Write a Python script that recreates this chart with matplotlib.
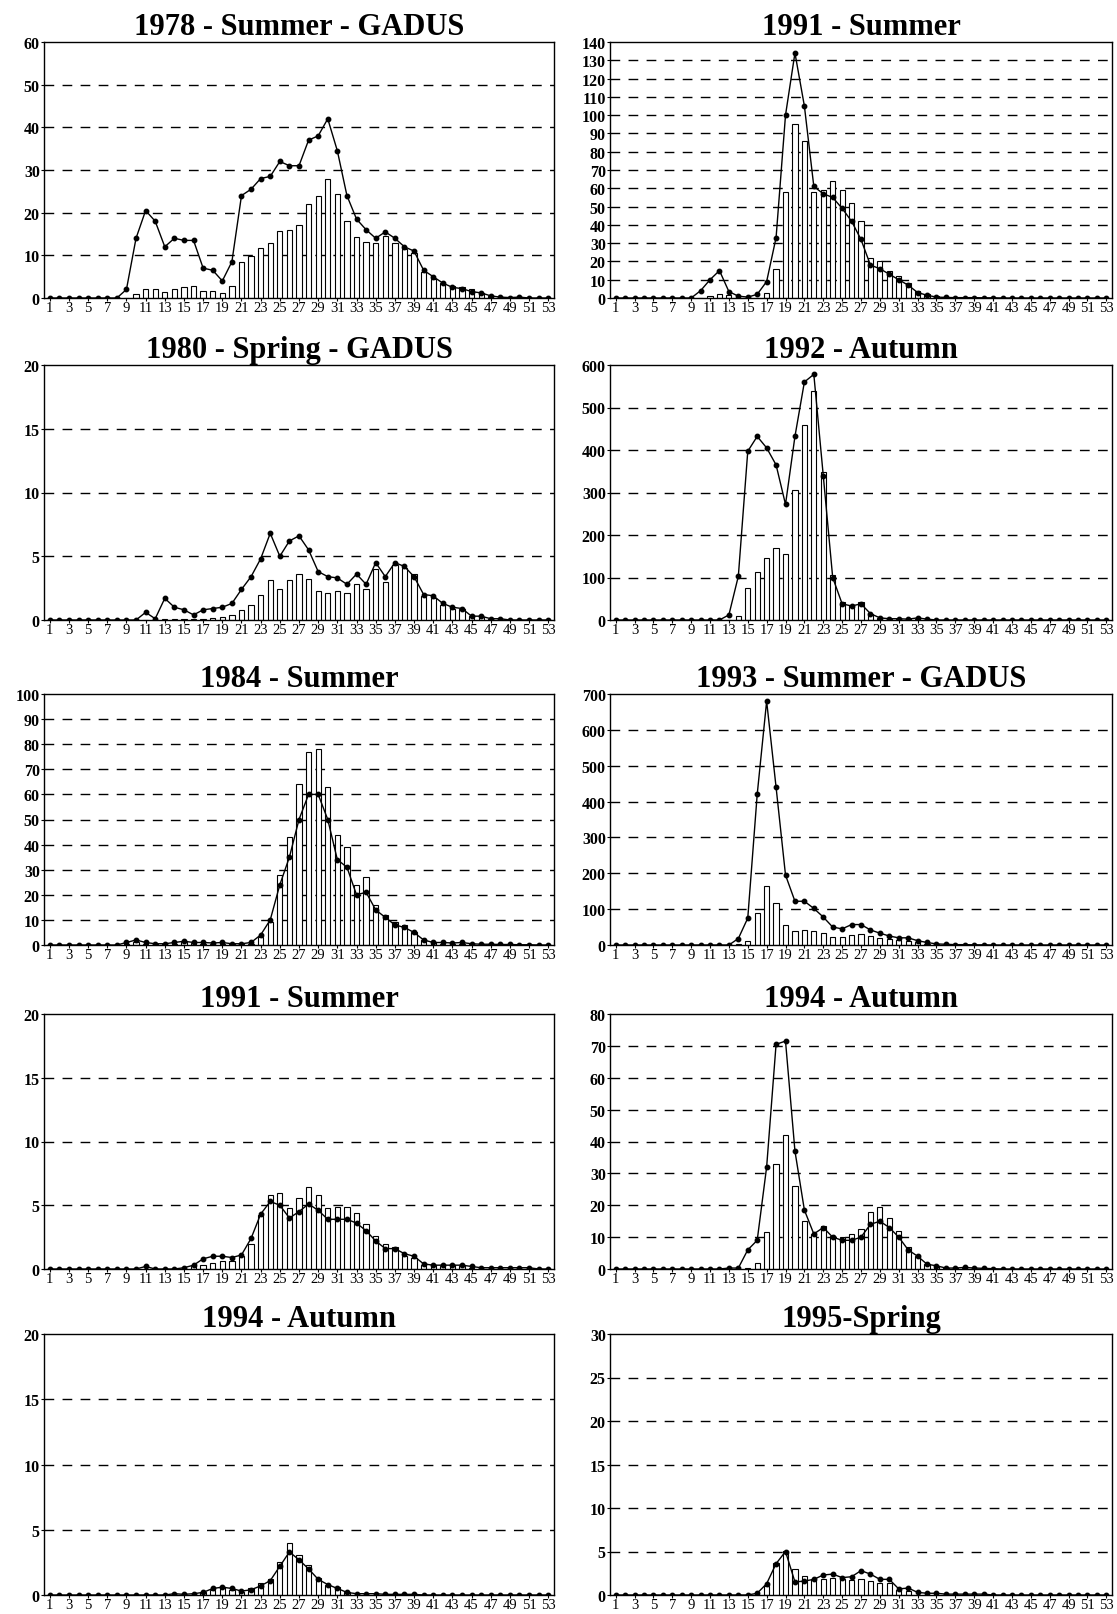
import matplotlib
matplotlib.use("Agg")
import matplotlib.pyplot as plt

# length classes 1..53
LENGTHS = list(range(1, 54))

# 1978 - Summer - GADUS
bars_1978 = [0]*9 + [1, 2, 2, 1.5, 2.2, 2.5, 2.7, 1.7, 1.7, 1.2, 2.7] + \
    [8.5, 9.8, 11.8, 12.8, 15.8, 16, 17.2, 22, 24, 27.8] + \
    [24.3, 18, 14.2, 13.2, 12.8, 14.5, 13, 11.5, 10.5, 6] + \
    [4.5, 3.5, 2.8, 2.5, 2, 1.2, 0.5, 0.2, 0.1, 0.2] + [0]*3
line_1978 = [0]*8 + [2, 14, 20.5, 18, 12, 14, 13.5, 13.5, 7, 6.5, 4, 8.5] + \
    [24, 25.5, 28, 28.5, 32, 31, 31, 37, 38, 42] + \
    [34.5, 24, 18.5, 16, 14, 15.5, 14, 12, 11, 6.5] + \
    [5, 3.5, 2.5, 2.2, 1.5, 1.2, 0.5, 0.2, 0.1, 0.2] + [0]*3

# 1991 - Summer (right)
bars_1991r = [0]*10 + [1, 2, 1.5, 0, 0, 0, 3, 16, 58, 95] + \
    [86, 58, 59, 64, 59, 52, 42, 22, 20, 15] + \
    [12, 8, 4, 2, 1, 0.5, 0, 0, 0, 0] + [0]*13
line_1991r = [0]*9 + [4, 10, 15, 3.5, 1, 0.5, 2, 9, 33, 100, 134] + \
    [105, 61, 57, 55, 49, 42, 32, 18, 16, 13] + \
    [10, 7, 3, 1.5, 0.5, 0.3, 0.2, 0.2, 0.2, 0.1] + [0.1] + [0]*12

# 1980 - Spring - GADUS
bars_1980 = [0]*12 + [0.1, 0.05, 0.05, 0.05, 0.1, 0.15, 0.2, 0.4] + \
    [0.8, 1.2, 2.0, 3.1, 2.4, 3.1, 3.6, 3.2, 2.3, 2.1] + \
    [2.3, 2.1, 2.8, 2.4, 4.0, 3.0, 4.3, 4.1, 3.6, 1.9] + \
    [1.7, 1.2, 0.9, 0.9, 0.3, 0.2, 0.1, 0, 0, 0] + [0]*3
line_1980 = [0]*10 + [0.6, 0.1, 1.7, 1.0, 0.8, 0.4, 0.8, 0.9, 1.0, 1.3] + \
    [2.4, 3.4, 4.8, 6.8, 5.0, 6.2, 6.6, 5.5, 3.8, 3.4] + \
    [3.3, 2.8, 3.6, 2.8, 4.5, 3.4, 4.5, 4.2, 3.4, 2.0] + \
    [1.9, 1.3, 1.0, 0.9, 0.3, 0.3, 0.1, 0.1, 0, 0] + [0]*3

# 1992 - Autumn
bars_1992 = [0]*13 + [10, 75, 113, 145, 170, 155, 305] + \
    [460, 540, 348, 105, 43, 35, 43, 15, 5, 3] + \
    [2, 2, 3] + [0]*20
line_1992 = [0]*12 + [12, 103, 397, 432, 405, 365, 272, 432] + \
    [560, 578, 340, 100, 38, 33, 38, 15, 5, 3] + \
    [3, 2, 5, 2] + [0]*19

# 1984 - Summer
bars_1984 = [0]*8 + [0.5, 1, 0.5, 0.3, 0.3, 0.5, 1, 0.8, 0.5, 0.5, 0.5, 0.3] + \
    [0.3, 0.5, 3, 9, 28, 43, 64, 77, 78, 63] + \
    [44, 39, 24, 27, 16, 12, 9, 8, 5, 2] + \
    [1, 0.5, 0.5, 0.5, 0.3, 0.2, 0.2, 0.1, 0.1, 0] + [0]*3
line_1984 = [0]*8 + [1, 2, 1, 0.5, 0.5, 1, 1.5, 1, 1, 0.8, 1, 0.5] + \
    [0.5, 1, 4, 10, 24, 35, 50, 60, 60, 50] + \
    [34, 31, 20, 21, 14, 11, 8, 7, 5, 2] + \
    [1, 1, 0.8, 1, 0.5, 0.3, 0.3, 0.2, 0.2, 0.1] + [0.1, 0, 0]

# 1993 - Summer - GADUS
bars_1993 = [0]*13 + [3, 12, 90, 165, 118, 55, 40] + \
    [42, 40, 33, 22, 22, 28, 30, 25, 20, 16] + \
    [15, 12, 8, 4, 2, 1, 0.5, 0, 0, 0] + [0]*13
line_1993 = [0]*13 + [18, 75, 420, 680, 440, 195, 122] + \
    [122, 102, 78, 50, 45, 57, 57, 42, 33, 25] + \
    [20, 20, 12, 7, 3, 2, 1, 1, 0.5, 0.5] + [0]*13

# 1991 - Summer (left)
bars_1991l = [0]*15 + [0.2, 0.3, 0.5, 0.6, 0.6] + \
    [1.0, 2.0, 4.2, 5.8, 6.0, 4.8, 5.6, 6.4, 5.8, 4.8] + \
    [4.9, 4.9, 4.4, 3.5, 2.6, 2.0, 1.7, 1.0, 0.9, 0.3] + \
    [0.3, 0.2, 0.3, 0.2, 0.1, 0, 0, 0, 0, 0] + [0]*3
line_1991l = [0]*10 + [0.2, 0, 0, 0, 0.1, 0.3, 0.8, 1.0, 1.0, 0.9] + \
    [1.1, 2.4, 4.3, 5.3, 5.0, 4.0, 4.5, 5.1, 4.6, 3.9] + \
    [3.9, 3.9, 3.6, 3.0, 2.2, 1.6, 1.6, 1.2, 1.0, 0.4] + \
    [0.3, 0.3, 0.3, 0.3, 0.2, 0.1, 0.1, 0.1, 0.1, 0.1] + [0.1, 0, 0]

# 1994 - Autumn (right)
bars_1994r = [0]*14 + [0.3, 2, 11.5, 33, 42, 26] + \
    [15, 11, 13.5, 10.5, 10, 11, 12.5, 18, 19.5, 16] + \
    [12, 7, 4, 1.5, 1, 0.3, 0.2, 0.2, 0.1, 0] + [0]*13
line_1994r = [0]*12 + [0.3, 0.3, 6, 9, 32, 70.5, 71.5, 37] + \
    [18.5, 11, 13, 10, 9, 9, 10, 14, 15, 13] + \
    [10, 6, 4, 1.5, 1, 0.3, 0.3, 0.5, 0.3, 0.2] + [0.1] + [0]*12

# 1994 - Autumn (left)
bars_1994l = [0]*16 + [0.2, 0.4, 0.6, 0.4] + \
    [0.2, 0.5, 0.9, 1.2, 2.5, 4.0, 3.1, 2.3, 1.3, 0.8] + \
    [0.6, 0.2] + [0]*21
line_1994l = [0]*13 + [0.1, 0.05, 0.1, 0.2, 0.5, 0.6, 0.5] + \
    [0.3, 0.4, 0.7, 1.1, 2.2, 3.3, 2.7, 2.0, 1.2, 0.8] + \
    [0.5, 0.2, 0.1, 0.1, 0.1, 0.05, 0.05, 0.05, 0.05, 0] + [0]*13

# 1995-Spring
bars_1995 = [0]*16 + [1.0, 3.7, 5.1, 3.0] + \
    [2.2, 1.8, 1.8, 2.0, 1.8, 1.7, 1.8, 1.6, 1.4, 1.4] + \
    [0.6, 0.5] + [0]*21
line_1995 = [0]*15 + [0.2, 1.3, 3.6, 5.0, 1.5] + \
    [1.6, 1.8, 2.3, 2.4, 2.0, 2.1, 2.8, 2.4, 1.8, 1.8] + \
    [0.7, 0.8, 0.3, 0.2, 0.2, 0.1, 0.1, 0.1, 0.1, 0.1] + [0]*13

titles = ["1978 - Summer - GADUS", "1991 - Summer",
          "1980 - Spring - GADUS", "1992 - Autumn",
          "1984 - Summer", "1993 - Summer - GADUS",
          "1991 - Summer", "1994 - Autumn",
          "1994 - Autumn", "1995-Spring"]
bar_series = [bars_1978, bars_1991r, bars_1980, bars_1992, bars_1984,
              bars_1993, bars_1991l, bars_1994r, bars_1994l, bars_1995]
line_series = [line_1978, line_1991r, line_1980, line_1992, line_1984,
               line_1993, line_1991l, line_1994r, line_1994l, line_1995]
y_max = [60, 140, 20, 600, 100, 700, 20, 80, 20, 30]
y_step = [10, 10, 5, 100, 10, 100, 5, 10, 5, 5]

SERIF = "Liberation Serif"
W, H = 1117, 1615
fig = plt.figure(figsize=(W / 100, H / 100), dpi=100)

# axes boxes in pixels (left, right) per column and (top, bottom) per row
cols = [(44, 554), (610, 1112)]
rows = [(43, 299), (366, 621), (695, 946), (1015, 1270), (1335, 1596)]

for i, title in enumerate(titles):
    c, r = i % 2, i // 2
    x0, x1 = cols[c]
    t, b = rows[r]
    ax = fig.add_axes([x0 / W, 1 - b / H, (x1 - x0) / W, (b - t) / H])

    ax.bar(LENGTHS, bar_series[i], width=0.55, facecolor="white",
           edgecolor="black", linewidth=0.8, zorder=2)
    ax.plot(LENGTHS, line_series[i], color="black", lw=1.0, marker="o",
            ms=3.2, zorder=3)

    ticks = list(range(0, y_max[i] + 1, y_step[i]))
    for yv in ticks[1:-1]:
        ax.axhline(yv, color="black", lw=1.0, ls=(0, (7, 6)), zorder=1)

    ax.set_xlim(0.4, 53.6)
    ax.set_ylim(0, y_max[i])
    ax.set_yticks(ticks)
    ax.set_xticks(LENGTHS[::2])
    ax.set_yticklabels([str(v) for v in ticks], family=SERIF,
                       fontweight="bold", fontsize=11.5)
    ax.set_xticklabels([str(v) for v in LENGTHS[::2]], family=SERIF,
                       fontsize=10.5)
    ax.tick_params(axis="both", direction="out", length=2, width=0.8, pad=1)
    ax.tick_params(axis="x", pad=0.5)
    for sp in ax.spines.values():
        sp.set_linewidth(1.0)
        sp.set_color("black")

    ax.set_title(title, family=SERIF, fontweight="bold", fontsize=22, pad=6)

fig.savefig("out.png", dpi=100)
